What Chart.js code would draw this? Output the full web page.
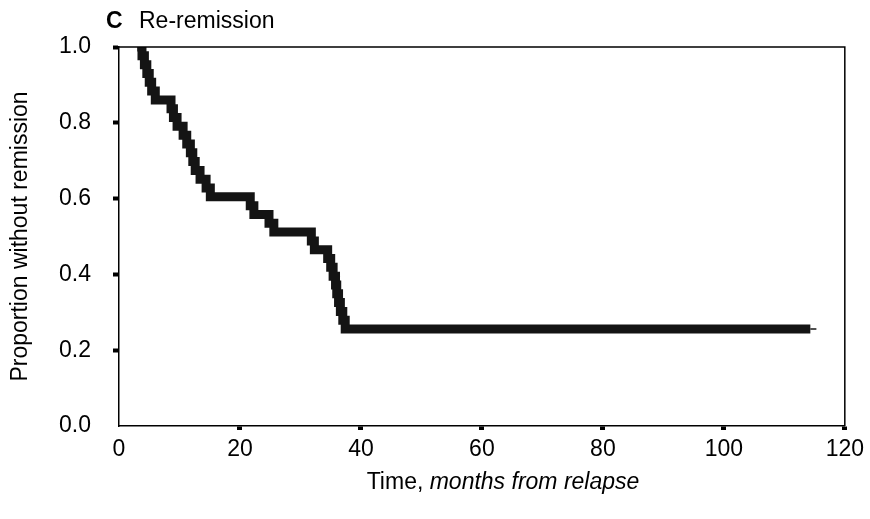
<!DOCTYPE html>
<html>
<head>
<meta charset="utf-8">
<script src="https://cdn.jsdelivr.net/npm/chart.js@4.4.1/dist/chart.umd.min.js"></script>
<style>
  html, body { margin: 0; padding: 0; background: #fff; }
  #wrap { width: 870px; height: 519px; }
</style>
</head>
<body>
<div id="wrap"><canvas id="kmChart" width="870" height="519"></canvas></div>
<script>
// Kaplan-Meier steps (months from relapse, proportion)
const months = [3, 3.8, 4.2, 4.6, 5.0, 5.4, 6.0, 8.6, 9.0, 9.6, 10.6, 11.2, 11.8, 12.2, 12.6, 13.4, 14.4, 15.1,
                21.7, 22.3, 24.8, 25.6, 31.8, 32.3, 34.5, 35.0, 35.4, 35.8, 36.0, 36.3, 36.6, 37.0, 37.4, 114.3];
const proportion = [1.0, 0.977, 0.953, 0.930, 0.907, 0.884, 0.860, 0.837, 0.814, 0.791, 0.767, 0.744, 0.721, 0.698, 0.674, 0.651, 0.628, 0.605,
                    0.581, 0.558, 0.535, 0.512, 0.488, 0.465, 0.442, 0.419, 0.395, 0.372, 0.349, 0.326, 0.302, 0.279, 0.256, 0.256];
// last censored follow-up (thin tail)
const tailMonths = [114.3, 115.3];
const tailProportion = [0.256, 0.256];
const xTicks = [0, 20, 40, 60, 80, 100, 120];
const yTicks = [0.0, 0.2, 0.4, 0.6, 0.8, 1.0];

const points = months.map((m, i) => ({ x: m, y: proportion[i] }));
const tail = tailMonths.map((m, i) => ({ x: m, y: tailProportion[i] }));
const FONT = "'Liberation Sans', Arial, sans-serif";

// no tick dot at the origin
const tickCol = c => (c.tick && c.tick.value === 0) ? 'rgba(0,0,0,0)' : '#000';

// box round the plot, panel label and mixed-style x title
const decorations = {
    id: 'decorations',
    afterDraw(chart) {
        const { ctx, chartArea: a } = chart;
        ctx.save();
        ctx.strokeStyle = '#000';
        ctx.lineWidth = 1.5;
        ctx.beginPath();
        ctx.moveTo(a.left, a.top);
        ctx.lineTo(a.right, a.top);
        ctx.lineTo(a.right, a.bottom);
        ctx.stroke();

        ctx.fillStyle = '#000';
        ctx.textBaseline = 'alphabetic';
        ctx.font = 'bold 23px ' + FONT;
        ctx.fillText('C', 106, 28);
        ctx.font = '23px ' + FONT;
        ctx.fillText('Re-remission', 139, 28);

        const part1 = 'Time, ';
        const part2 = 'months from relapse';
        ctx.font = '23px ' + FONT;
        const w1 = ctx.measureText(part1).width;
        ctx.font = 'italic 23px ' + FONT;
        const w2 = ctx.measureText(part2).width;
        const x = 503 - (w1 + w2) / 2;
        ctx.font = '23px ' + FONT;
        ctx.fillText(part1, x, 489);
        ctx.font = 'italic 23px ' + FONT;
        ctx.fillText(part2, x + w1, 489);
        ctx.restore();
    }
};

const ctx = document.getElementById('kmChart').getContext('2d');
new Chart(ctx, {
    type: 'line',
    data: {
        datasets: [{
            data: points,
            stepped: 'before',
            borderColor: '#141414',
            backgroundColor: '#141414',
            borderWidth: 9,
            borderJoinStyle: 'miter',
            borderCapStyle: 'butt',
            pointRadius: 0,
            fill: false
        }, {
            data: tail,
            borderColor: '#141414',
            borderWidth: 1.5,
            pointRadius: 0,
            fill: false
        }]
    },
    options: {
        responsive: false,
        animation: false,
        layout: { padding: { left: 0, top: 47, right: 24, bottom: 0 } },
        plugins: { legend: { display: false }, tooltip: { enabled: false } },
        scales: {
            x: {
                type: 'linear',
                min: 0,
                max: 120,
                afterBuildTicks: s => { s.ticks = xTicks.map(v => ({ value: v })); },
                afterFit: s => { s.height = 93; },
                border: { display: true, color: '#000', width: 1.5 },
                grid: { drawOnChartArea: false, drawTicks: true, tickLength: 4, tickWidth: 5, tickColor: tickCol },
                ticks: { color: '#000', padding: 6, font: { family: FONT, size: 23 } }
            },
            y: {
                min: 0,
                max: 1,
                afterBuildTicks: s => { s.ticks = yTicks.map(v => ({ value: v })); },
                afterFit: s => { s.width = 119; },
                border: { display: true, color: '#000', width: 1.5 },
                grid: { drawOnChartArea: false, drawTicks: true, tickLength: 6, tickWidth: 4, tickColor: tickCol },
                ticks: { color: '#000', padding: 22, callback: v => v.toFixed(1), font: { family: FONT, size: 23 } },
                title: {
                    display: true,
                    text: 'Proportion without remission',
                    color: '#000',
                    padding: { top: 7 },
                    font: { family: FONT, size: 23 }
                }
            }
        }
    },
    plugins: [decorations]
});
</script>
</body>
</html>
